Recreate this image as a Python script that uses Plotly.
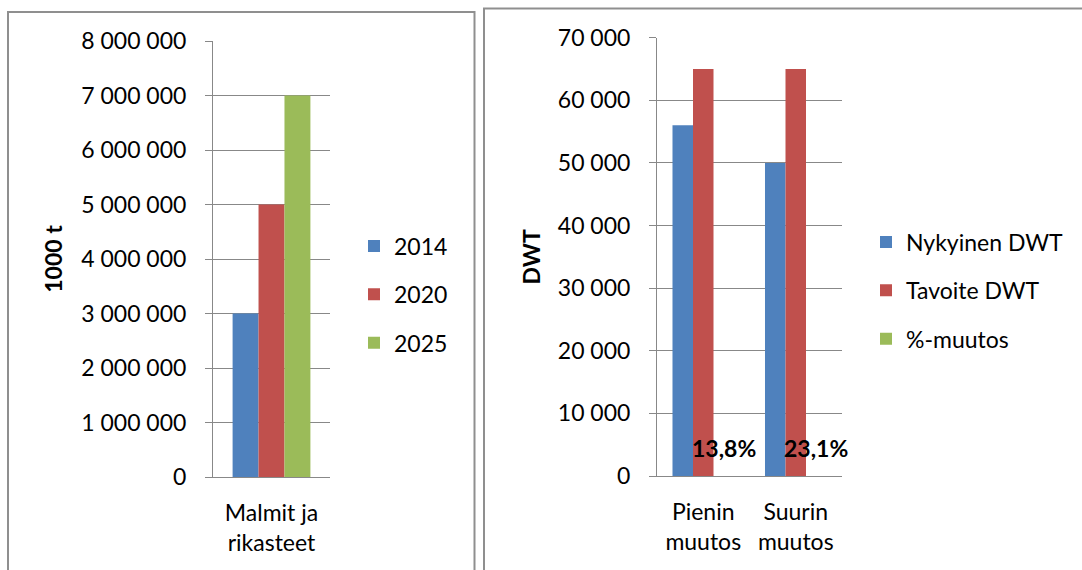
import plotly.graph_objects as go

# --- data ---------------------------------------------------------------
left_categories = ["Malmit ja<br>rikasteet"]
left_series = ["2014", "2020", "2025"]
left_values = [[3000000], [5000000], [7000000]]

right_categories = ["Pienin<br>muutos", "Suurin<br>muutos"]
current_dwt = [56000, 50000]
target_dwt = [65000, 65000]
pct_change = [0.138, 0.231]
right_series = ["Nykyinen DWT", "Tavoite DWT", "%-muutos"]

colors = ["#4F81BD", "#C0504D", "#9BBB59"]

# --- styling ------------------------------------------------------------
W, H = 1082, 570
FONT = "Lato"
GRID = "#888888"
BARGAP = 0.335


def px_x(p):
    return p / W


def px_y(p):
    return 1 - p / H


fig = go.Figure()

# left chart: tonnage by year
for i, (name, vals) in enumerate(zip(left_series, left_values)):
    fig.add_trace(go.Bar(
        x=left_categories, y=vals, name=name,
        marker=dict(color=colors[i], line=dict(width=0)),
        xaxis="x", yaxis="y", legend="legend", legendgroup=f"l{i}",
    ))

# right chart: vessel size
right_values = [current_dwt, target_dwt, pct_change]
for i, (name, vals) in enumerate(zip(right_series, right_values)):
    fig.add_trace(go.Bar(
        x=right_categories, y=vals, name=name,
        marker=dict(color=colors[i], line=dict(width=0)),
        xaxis="x2", yaxis="y2", legend="legend2", legendgroup=f"r{i}",
    ))

# percentage labels above the (near zero) %-muutos bars
bar_w = (1 - BARGAP) / 3
for i, v in enumerate(pct_change):
    fig.add_annotation(
        x=i + bar_w, y=v, xref="x2", yref="y2",
        text=f"{v * 100:.1f}%".replace(".", ","),
        showarrow=False, yanchor="bottom", yshift=12,
        font=dict(family=FONT, size=23, color="black", weight="bold"),
    )

axis_common = dict(
    showgrid=True, gridcolor=GRID, gridwidth=1,
    showline=True, linecolor=GRID, linewidth=1,
    zeroline=False, automargin=False,
    ticks="outside", ticklen=7, tickcolor=GRID, tickwidth=1,
    tickfont=dict(family=FONT, size=23, color="black"),
    tickformat=",d", ticklabelstandoff=14,
)
xaxis_common = dict(
    showgrid=False, showline=True, linecolor=GRID, linewidth=1,
    automargin=False, autorange=False,
    ticks="", tickfont=dict(family=FONT, size=23, color="black"),
    ticklabelstandoff=15,
)

fig.update_layout(
    width=W, height=H,
    margin=dict(l=0, r=0, t=0, b=0, pad=0, autoexpand=False),
    paper_bgcolor="white", plot_bgcolor="white",
    separators=", ",
    barmode="group", bargap=BARGAP, bargroupgap=0,
    font=dict(family=FONT, color="black"),
    showlegend=True,
    xaxis=dict(domain=[px_x(213), px_x(330)], anchor="y",
               range=[-0.5, len(left_categories) - 0.5], **xaxis_common),
    yaxis=dict(
        domain=[px_y(477), px_y(41)], anchor="x",
        range=[0, 8000000], dtick=1000000,
        title=dict(text="1000 t", standoff=12,
                   font=dict(family=FONT, size=23, color="black", weight="bold")),
        **axis_common,
    ),
    xaxis2=dict(domain=[px_x(657), px_x(842)], anchor="y2",
                range=[-0.5, len(right_categories) - 0.5], **xaxis_common),
    yaxis2=dict(
        domain=[px_y(476), px_y(37.7)], anchor="x2",
        range=[0, 70000], dtick=10000,
        title=dict(text="DWT", standoff=10,
                   font=dict(family=FONT, size=23, color="black", weight="bold")),
        **axis_common,
    ),
    legend=dict(
        x=px_x(354), y=px_y(224.5), xanchor="left", yanchor="top",
        font=dict(family=FONT, size=23, color="black"),
        bgcolor="rgba(0,0,0,0)", tracegroupgap=15.5, traceorder="grouped",
    ),
    legend2=dict(
        x=px_x(866), y=px_y(220.5), xanchor="left", yanchor="top",
        font=dict(family=FONT, size=23, color="black"),
        bgcolor="rgba(0,0,0,0)", tracegroupgap=15.5, traceorder="grouped",
    ),
    shapes=[
        dict(type="rect", xref="paper", yref="paper",
             x0=px_x(8), x1=px_x(474.5), y0=-0.05, y1=px_y(12),
             line=dict(color="#8f8f8f", width=2), fillcolor="rgba(0,0,0,0)"),
        dict(type="rect", xref="paper", yref="paper",
             x0=px_x(484), x1=1.05, y0=-0.05, y1=px_y(8.5),
             line=dict(color="#8f8f8f", width=2), fillcolor="rgba(0,0,0,0)"),
    ],
)

fig.write_html("out.html")
